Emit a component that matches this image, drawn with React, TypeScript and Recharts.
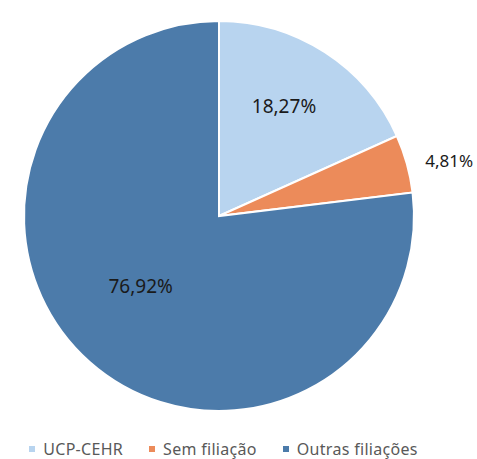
import { PieChart, Pie, Cell, Legend } from "recharts"

const categories = ["UCP-CEHR", "Sem filiação", "Outras filiações"]
const shares = [18.27, 4.81, 76.92]
const colors = ["#B8D4EF", "#EC8B5A", "#4C7BAA"]

const data = categories.map((name, i) => ({ name, value: shares[i] }))

const RADIAN = Math.PI / 180
// label distance from centre (share of radius) and small angle nudge
const labelPos = [0.655, 1.215, 0.54]
const labelTurn = [2.3, -1.9, -6.5]
const labelSize = [19, 17, 19]

function renderLabel(props: any) {
  const { cx, cy, midAngle, outerRadius, index, value } = props
  const r = outerRadius * labelPos[index]
  const a = (midAngle + labelTurn[index]) * RADIAN
  const x = cx + r * Math.cos(-a)
  const y = cy + r * Math.sin(-a)
  return (
    <text
      x={x}
      y={y}
      fill="#1a1a1a"
      fontSize={labelSize[index]}
      textAnchor="middle"
      dominantBaseline="central"
      fontFamily="'Noto Sans', sans-serif"
    >
      {value.toFixed(2).replace(".", ",")}%
    </text>
  )
}

function renderLegend() {
  return (
    <div
      style={{
        display: "flex",
        justifyContent: "center",
        gap: 26,
        fontFamily: "'Noto Sans', sans-serif",
        fontSize: 16,
        lineHeight: "20px",
        letterSpacing: 0.3,
        color: "#595959",
      }}
    >
      {categories.map((c, i) => (
        <span key={c} style={{ display: "flex", alignItems: "center" }}>
          <span style={{ width: 6, height: 6, background: colors[i], marginRight: 8, display: "inline-block" }} />
          {c}
        </span>
      ))}
    </div>
  )
}

export default function App() {
  return (
    <div style={{ position: "absolute", left: 0, top: 0, background: "#fff" }}>
      <PieChart width={477} height={459}>
        <Pie
          data={data}
          dataKey="value"
          cx={214}
          cy={211}
          outerRadius={195}
          startAngle={90}
          endAngle={-270}
          stroke="#fff"
          strokeWidth={2}
          label={renderLabel}
          labelLine={false}
          isAnimationActive={false}
        >
          {data.map((d, i) => (
            <Cell key={d.name} fill={colors[i]} />
          ))}
        </Pie>
        <Legend verticalAlign="bottom" content={renderLegend} wrapperStyle={{ bottom: 0, left: -10 }} />
      </PieChart>
    </div>
  )
}
